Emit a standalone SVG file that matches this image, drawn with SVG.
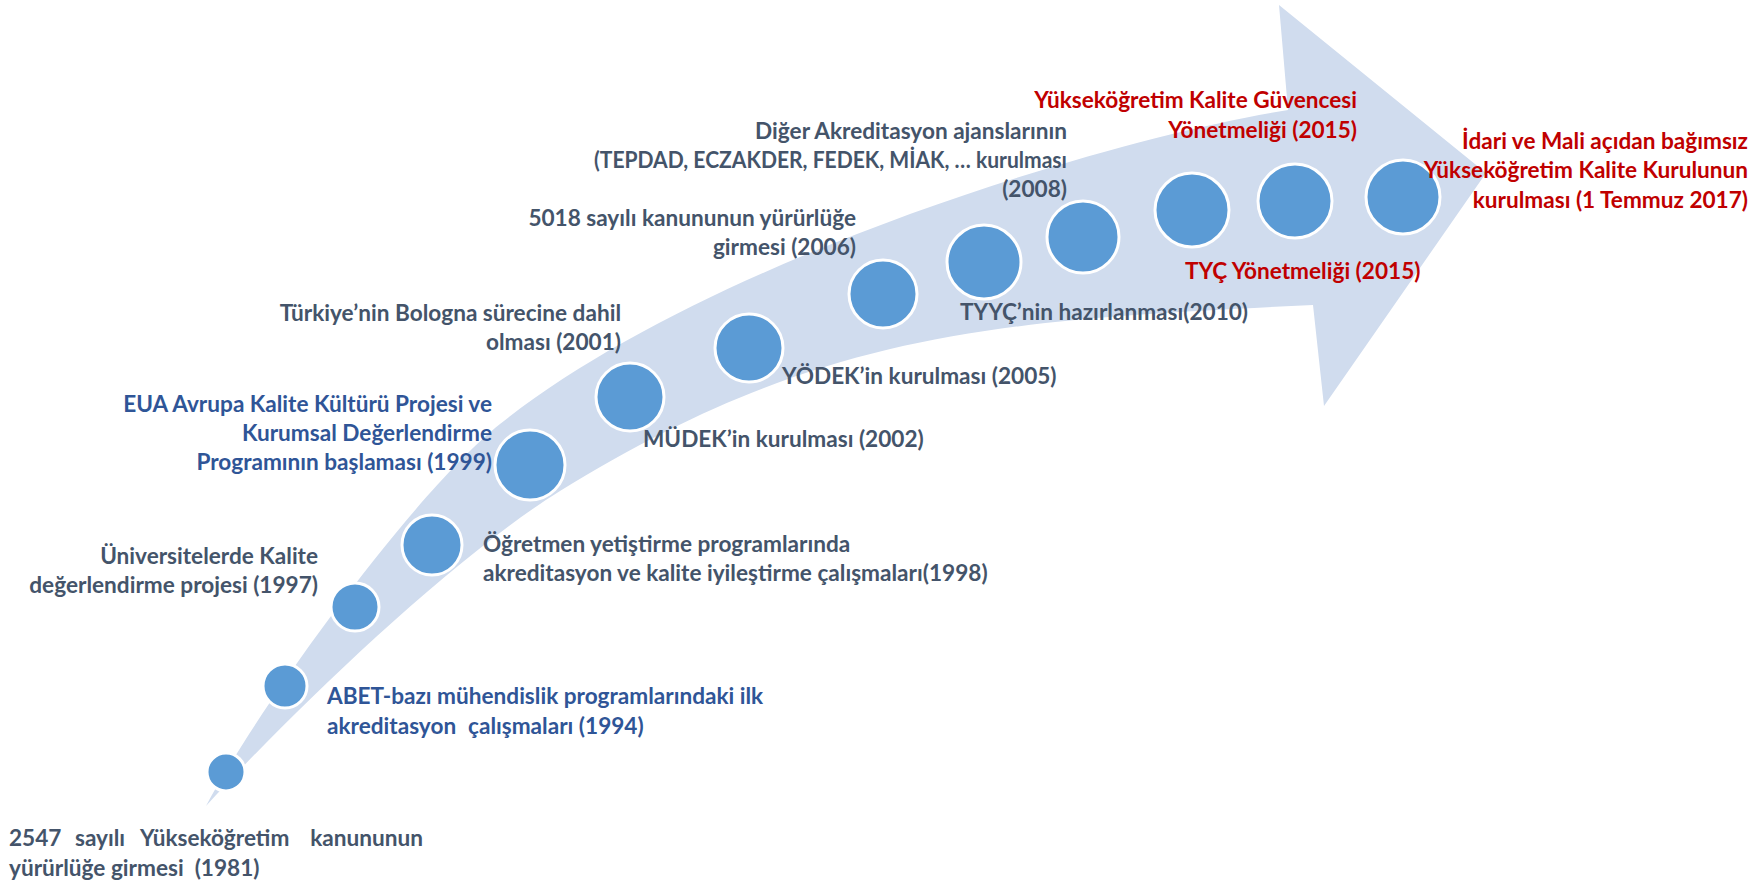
<svg xmlns="http://www.w3.org/2000/svg" width="1754" height="885" viewBox="0 0 1754 885">
<style>
.t{font-family:Lato,"Liberation Sans","DejaVu Sans",sans-serif;font-weight:700;font-size:22.6px;fill:#44546A}
.b{fill:#2F5597}
.r{fill:#C00000}
.e{text-anchor:end}
.c{fill:#5B9BD5;stroke:#FFFFFF;stroke-width:3}
</style>
<rect width="1754" height="885" fill="#FFFFFF"/>
<g id="arrow">
<path d="M206,806 C256,712 410,496 500,424 C700,264 1100,140 1288,110 L1279,5 L1486,173 L1324,406 L1313,305 C1000,320 820,330 560,491 C450,559 286,718 206,806 Z" fill="#D0DCEE"/>
</g>
<g id="milestones">
<circle id="m1" class="c" cx="226" cy="772" r="19"/>
<circle id="m2" class="c" cx="285" cy="686" r="22"/>
<circle id="m3" class="c" cx="355" cy="607" r="24"/>
<circle id="m4" class="c" cx="432" cy="545" r="30"/>
<circle id="m5" class="c" cx="530" cy="465" r="35"/>
<circle id="m6" class="c" cx="630" cy="397" r="34"/>
<circle id="m7" class="c" cx="749" cy="348" r="34"/>
<circle id="m8" class="c" cx="883" cy="294" r="34"/>
<circle id="m9" class="c" cx="984" cy="262" r="37"/>
<circle id="m10" class="c" cx="1083" cy="237" r="36"/>
<circle id="m11" class="c" cx="1192" cy="210" r="37"/>
<circle id="m12" class="c" cx="1295" cy="201" r="37"/>
<circle id="m13" class="c" cx="1403" cy="197" r="37"/>
</g>
<g id="l1981" class="t">
<text x="9" y="846">2547</text>
<text x="75" y="846">sayılı</text>
<text x="140" y="846">Yükseköğretim</text>
<text x="423" y="846" class="e">kanununun</text>
<text x="9" y="876" xml:space="preserve">yürürlüğe girmesi  (1981)</text>
</g>
<g id="l1994" class="t b">
<text x="327" y="704">ABET-bazı mühendislik programlarındaki ilk</text>
<text x="327" y="734">akreditasyon</text>
<text x="468" y="734">çalışmaları (1994)</text>
</g>
<g id="l1997" class="t e">
<text x="318" y="564">Üniversitelerde Kalite</text>
<text x="318" y="593">değerlendirme projesi (1997)</text>
</g>
<g id="l1998" class="t">
<text x="483" y="552">Öğretmen yetiştirme programlarında</text>
<text x="483" y="581">akreditasyon ve kalite iyileştirme çalışmaları(1998)</text>
</g>
<g id="l1999" class="t b e">
<text x="492" y="412">EUA Avrupa Kalite Kültürü Projesi ve</text>
<text x="492" y="441">Kurumsal Değerlendirme</text>
<text x="492" y="470">Programının başlaması (1999)</text>
</g>
<g id="l2001" class="t e">
<text x="621" y="321">Türkiye’nin Bologna sürecine dahil</text>
<text x="621" y="350">olması (2001)</text>
</g>
<g id="l2002" class="t">
<text x="643" y="447">MÜDEK’in kurulması (2002)</text>
</g>
<g id="l2005" class="t">
<text x="782" y="384">YÖDEK’in kurulması (2005)</text>
</g>
<g id="l2006" class="t e">
<text x="856" y="226">5018 sayılı kanununun yürürlüğe</text>
<text x="856" y="255">girmesi (2006)</text>
</g>
<g id="l2008" class="t e">
<text x="1067" y="139">Diğer Akreditasyon ajanslarının</text>
<text x="1067" y="168" textLength="473" lengthAdjust="spacingAndGlyphs">(TEPDAD, ECZAKDER, FEDEK, MİAK, … kurulması</text>
<text x="1067" y="197">(2008)</text>
</g>
<g id="l2010" class="t">
<text x="960" y="320">TYYÇ’nin hazırlanması(2010)</text>
</g>
<g id="l2015a" class="t r e">
<text x="1357" y="108">Yükseköğretim Kalite Güvencesi</text>
<text x="1357" y="138">Yönetmeliği (2015)</text>
</g>
<g id="l2015b" class="t r">
<text x="1185" y="279">TYÇ Yönetmeliği (2015)</text>
</g>
<g id="l2017" class="t r e">
<text x="1748" y="149">İdari ve Mali açıdan bağımsız</text>
<text x="1748" y="178">Yükseköğretim Kalite Kurulunun</text>
<text x="1748" y="208">kurulması (1 Temmuz 2017)</text>
</g>
</svg>
